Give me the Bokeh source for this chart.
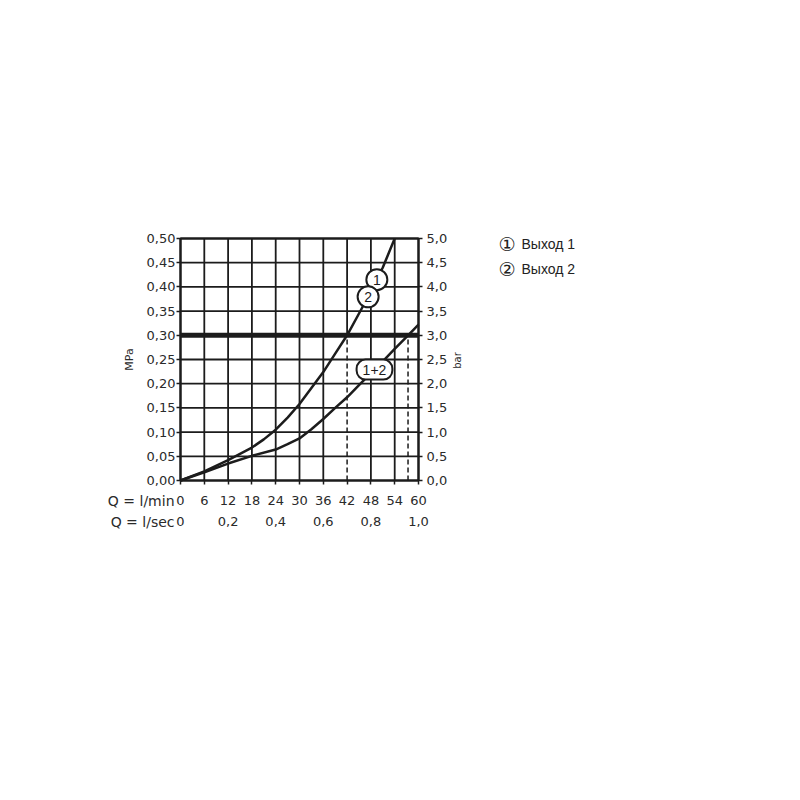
import math
import numpy as np
from bokeh.plotting import figure
from bokeh.models import (Range1d, LinearAxis, FixedTicker, CustomJSTickFormatter,
                          Label, ColumnDataSource)
from bokeh.core.properties import value
from bokeh.embed import file_html
from bokeh.resources import INLINE

# ---- data ----
flow_1 = [0, 6, 12, 18, 21, 24, 27, 30, 33, 36, 39, 42, 45, 48, 51, 54]          # l/min
pressure_1 = [0, 0.019, 0.042, 0.068, 0.085, 0.105, 0.130, 0.158, 0.191, 0.224,
              0.262, 0.300, 0.345, 0.390, 0.440, 0.500]                              # MPa
flow_12 = [0, 6, 12, 18, 24, 27, 30, 33, 36, 39, 42, 45, 48, 51, 54, 57, 60]
pressure_12 = [0, 0.017, 0.035, 0.051, 0.064, 0.075, 0.087, 0.106, 0.127, 0.150,
               0.172, 0.197, 0.222, 0.246, 0.272, 0.297, 0.322]
pressure_limit = 0.30

lmin_ticks = [0, 6, 12, 18, 24, 30, 36, 42, 48, 54, 60]
lsec_ticks = [0, 0.2, 0.4, 0.6, 0.8, 1.0]
mpa_ticks = [0, 0.05, 0.10, 0.15, 0.20, 0.25, 0.30, 0.35, 0.40, 0.45, 0.50]
bar_ticks = [0, 0.5, 1.0, 1.5, 2.0, 2.5, 3.0, 3.5, 4.0, 4.5, 5.0]
legend_marks = ["\u2460", "\u2461"]
legend_names = ["Выход 1", "Выход 2"]
curve_labels = ["1", "2"]
curve_label_flow = [49.5, 47.3]
combo_label = "1+2"
combo_label_flow = 48.9

# ---- layout (pixels) ----
W, H = 784, 784
FL, FR, FT, FB = 180, 418, 238, 480
XMAX, YMAX = 60, 0.5
INK = "#1c1c1c"
TXT = "#2a2a2a"
FONT = "DejaVu Sans"
SX = (FR - FL) / XMAX
SY = (FB - FT) / YMAX


def xd(px):
    return (px - FL) / SX


def yd(py):
    return (FB - py) / SY


p = figure(width=W, height=H, output_backend="svg", toolbar_location=None,
           x_range=Range1d(xd(0), xd(W)), y_range=Range1d(yd(H), yd(0)),
           min_border=0, min_border_left=0, min_border_right=0,
           min_border_top=0, min_border_bottom=0,
           background_fill_color="white", border_fill_color="white")
p.outline_line_color = None
p.grid.visible = False

p.extra_y_ranges = {"bar": Range1d(yd(H) * 10, yd(0) * 10)}
p.extra_x_ranges = {"sec": Range1d(xd(0) / 60, xd(W) / 60)}


def style_axis(ax):
    ax.axis_line_color = None
    ax.major_tick_line_color = INK
    ax.major_tick_line_width = 1.5
    ax.major_tick_out = 4
    ax.major_tick_in = 0
    ax.minor_tick_line_color = None
    ax.major_label_text_font = FONT
    ax.major_label_text_font_size = "13px"
    ax.major_label_text_color = TXT


# left axis (MPa) at x = 0
la = p.yaxis[0]
style_axis(la)
la.fixed_location = 0
la.bounds = (0, YMAX)
la.ticker = FixedTicker(ticks=mpa_ticks)
la.formatter = CustomJSTickFormatter(code="return tick.toFixed(2).replace('.', ',');")
la.major_label_standoff = 1

# right axis (bar) at x = 60
ra = LinearAxis(y_range_name="bar")
style_axis(ra)
ra.fixed_location = XMAX
ra.bounds = (0, 5)
ra.ticker = FixedTicker(ticks=bar_ticks)
ra.formatter = CustomJSTickFormatter(code="return tick.toFixed(1).replace('.', ',');")
ra.major_label_standoff = 4
p.add_layout(ra, "right")

# bottom axis (l/min) at y = 0
ba = p.xaxis[0]
style_axis(ba)
ba.fixed_location = 0
ba.bounds = (0, XMAX)
ba.ticker = FixedTicker(ticks=lmin_ticks)
ba.formatter = CustomJSTickFormatter(code="return tick.toFixed(0);")
ba.major_label_standoff = 11

# second bottom axis (l/sec)
sa = LinearAxis(x_range_name="sec")
style_axis(sa)
sa.fixed_location = yd(507)
sa.bounds = (0, 1)
sa.major_tick_line_color = None
sa.major_tick_out = 0
sa.ticker = FixedTicker(ticks=lsec_ticks)
sa.formatter = CustomJSTickFormatter(
    code="return tick == 0 ? '0' : tick.toFixed(1).replace('.', ',');")
sa.major_label_standoff = 9
p.add_layout(sa, "below")

# intersections of the curves with the limit line
x_int1 = float(np.interp(pressure_limit, pressure_1, flow_1))
x_int12 = float(np.interp(pressure_limit, pressure_12, flow_12))

# grid lines (the grid line under a dashed marker is replaced by it)
grid_y0 = [pressure_limit if abs(t - x_int1) < 0.5 or abs(t - x_int12) < 0.5 else 0
           for t in lmin_ticks]
p.segment(x0=lmin_ticks, y0=grid_y0, x1=lmin_ticks,
          y1=[YMAX] * len(lmin_ticks), line_color=INK, line_width=1.8)
p.segment(x0=[0] * len(mpa_ticks), y0=mpa_ticks, x1=[XMAX] * len(mpa_ticks),
          y1=mpa_ticks, line_color=INK, line_width=1.8)
p.quad(left=[0], right=[XMAX], bottom=[0], top=[YMAX], fill_color=None,
       line_color=INK, line_width=2.2)

# limit line at 0.30 MPa
p.line([0, XMAX], [pressure_limit, pressure_limit], line_color=INK, line_width=5)

# dashed verticals at intersections with limit
p.segment(x0=[x_int1, x_int12], y0=[0, 0], x1=[x_int1, x_int12],
          y1=[pressure_limit, pressure_limit], line_color=INK, line_width=1.5,
          line_dash="5 3")

# curves
p.line(flow_1, pressure_1, line_color=INK, line_width=2.5)
p.line(flow_12, pressure_12, line_color=INK, line_width=2.5)

# circled labels on curve 1
cy = [float(np.interp(f, flow_1, pressure_1)) for f in curve_label_flow]
src = ColumnDataSource(dict(x=curve_label_flow, y=cy, t=curve_labels))
p.scatter("x", "y", source=src, size=21, marker="circle", fill_color="white",
          line_color=INK, line_width=2)
p.text("x", "y", text="t", source=src, text_align="center", text_baseline="middle",
       text_font=value("Liberation Sans"), text_font_size="14px", text_color=INK)

# pill label on combined curve
p.add_layout(Label(x=combo_label_flow,
                   y=float(np.interp(combo_label_flow, flow_12, pressure_12)),
                   text=combo_label, text_align="center", text_baseline="middle",
                   text_font="Liberation Sans", text_font_size="14px", text_color=INK,
                   background_fill_color="white", border_line_color=INK,
                   border_line_width=2, border_radius=9,
                   padding=dict(left=6, right=6, top=5, bottom=5)))

# axis titles
p.add_layout(Label(x=xd(129), y=yd(359), text="MPa", angle=math.pi / 2,
                   text_align="center", text_baseline="middle", text_font=FONT,
                   text_font_size="11px", text_color=TXT))
p.add_layout(Label(x=xd(457), y=yd(360), text="bar", angle=math.pi / 2,
                   text_align="center", text_baseline="middle", text_font=FONT,
                   text_font_size="10px", text_color=TXT))

# row captions
for txt, py in (("Q = l/min", 500), ("Q = l/sec", 521)):
    p.add_layout(Label(x=xd(174), y=yd(py), text=txt, text_align="right",
                       text_baseline="middle", text_font=FONT, text_font_size="14px",
                       text_color=TXT))

# legend
for mark, name, py in zip(legend_marks, legend_names, (243, 268)):
    p.add_layout(Label(x=xd(506.5), y=yd(py), text=mark, text_align="center",
                       text_baseline="middle", text_font=FONT,
                       text_font_size="19px", text_color="#222222"))
    p.add_layout(Label(x=xd(521), y=yd(py), text=name, text_align="left",
                       text_baseline="middle", text_font="Liberation Sans",
                       text_font_size="14px", text_color="#222222"))

open("out.html", "w").write(file_html(p, INLINE))
